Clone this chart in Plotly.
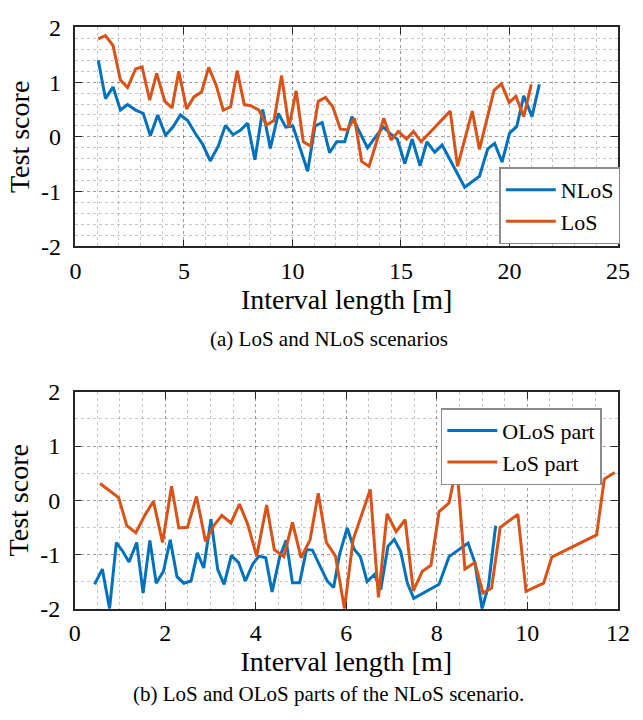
import plotly.graph_objects as go

# ---- (a) LoS and NLoS scenarios ----
nlos_x = [1.05,1.38,1.73,2.07,2.40,2.77,3.12,3.45,3.79,4.15,4.49,4.84,5.17,5.51,5.87,6.21,6.58,6.91,7.26,7.60,
          7.93,8.27,8.63,8.98,9.35,9.69,10.02,10.35,10.70,11.04,11.37,11.71,12.04,12.41,12.74,13.09,13.46,13.83,
          14.18,14.51,14.83,15.18,15.52,15.88,16.20,16.56,16.90,17.94,18.62,19.00,19.32,19.66,20.01,20.34,20.66,
          21.04,21.38]
nlos_y = [1.40,0.70,0.91,0.49,0.59,0.49,0.43,0.02,0.40,0.03,0.18,0.40,0.30,0.07,-0.14,-0.44,-0.17,0.21,0.04,0.12,
          0.25,-0.42,0.50,-0.21,0.43,0.18,0.20,-0.20,-0.63,0.20,0.26,-0.29,-0.09,-0.09,0.37,0.09,-0.20,0.00,
          0.18,0.06,-0.04,-0.49,-0.04,-0.53,-0.09,-0.28,-0.15,-0.92,-0.72,-0.22,-0.12,-0.46,0.07,0.19,0.75,
          0.37,0.96]
los_x = [1.05,1.38,1.73,2.07,2.40,2.77,3.07,3.42,3.74,4.12,4.45,4.76,5.12,5.46,5.81,6.14,6.48,6.81,7.15,7.45,
         7.78,8.08,8.45,8.80,9.15,9.50,9.84,10.17,10.50,10.84,11.19,11.52,11.86,12.21,12.53,12.86,13.19,13.53,
         14.21,14.55,14.88,15.26,15.58,15.93,17.27,17.61,18.29,18.62,19.29,19.63,19.99,20.30,20.66,21.01]
los_y = [1.79,1.85,1.67,1.04,0.90,1.24,1.28,0.67,1.16,0.65,0.53,1.20,0.51,0.73,0.82,1.27,0.95,0.49,0.55,1.21,
         0.59,0.57,0.49,0.22,0.30,1.12,0.18,0.84,-0.09,-0.17,0.65,0.72,0.55,0.14,0.13,0.34,-0.45,-0.54,
         0.34,-0.06,0.10,-0.04,0.10,-0.09,0.47,-0.54,0.47,-0.23,0.85,0.97,0.63,0.74,0.37,0.96]

# ---- (b) LoS and OLoS parts of the NLoS scenario ----
olos_part_x = [0.44,0.61,0.77,0.92,1.06,1.20,1.37,1.51,1.66,1.80,1.96,2.11,2.26,2.41,2.57,2.71,2.85,3.01,3.16,3.30,
               3.46,3.62,3.77,3.93,4.07,4.22,4.36,4.53,4.67,4.81,4.97,5.12,5.25,5.41,5.58,5.72,5.85,6.02,6.17,6.31,
               6.46,6.62,6.76,6.92,7.06,7.20,7.35,7.49,8.05,8.27,8.48,8.69,8.84,9.00,9.14,9.30]
olos_part_y = [-1.55,-1.27,-2.0,-0.78,-0.94,-1.14,-0.78,-1.71,-0.74,-1.53,-1.31,-0.73,-1.41,-1.53,-1.49,-0.97,-1.25,-0.35,
               -1.28,-1.55,-1.02,-1.15,-1.49,-1.18,-1.03,-1.06,-1.69,-1.04,-0.74,-1.52,-1.52,-0.91,-0.92,-1.19,-1.49,-1.61,
               -1.00,-0.51,-0.90,-1.04,-1.50,-1.37,-1.65,-0.85,-0.72,-0.94,-1.53,-1.81,-1.55,-1.04,-0.92,-0.79,-1.15,-2.0,
               -1.58,-0.47]
los_part_x = [0.56,0.97,1.15,1.35,1.56,1.74,1.94,2.14,2.30,2.49,2.69,2.89,3.07,3.25,3.45,3.64,3.82,4.02,4.24,4.41,
              4.62,4.81,5.00,5.20,5.38,5.56,5.76,5.96,6.15,6.53,6.71,6.90,7.10,7.30,7.48,7.68,7.87,8.05,8.27,8.44,
              8.62,8.84,9.02,9.21,9.40,9.79,9.97,10.36,10.54,11.53,11.70,11.93]
los_part_y = [0.31,0.05,-0.47,-0.60,-0.26,-0.02,-0.78,0.26,-0.51,-0.50,0.07,-0.76,-0.47,-0.28,-0.42,-0.07,-0.44,-1.03,
              -0.09,-0.91,-1.04,-0.41,-1.06,-0.73,0.13,-0.78,-1.03,-2.0,-0.73,0.20,-1.79,-0.25,-0.58,-0.36,-1.67,-1.31,
              -1.20,-0.21,-0.05,0.65,-1.27,-1.15,-1.71,-1.62,-0.50,-0.26,-1.68,-1.53,-1.05,-0.64,0.39,0.51]

x_ticks_a = [0, 5, 10, 15, 20, 25]
x_ticks_b = [0, 2, 4, 6, 8, 10, 12]
y_ticks = [-2, -1, 0, 1, 2]
y_ticktext = ["-2", "-1", "0", "1", "2"]

BLUE = "#0072BD"
ORANGE = "#D95319"
FONT = "Liberation Serif"
AX = "#262626"
GRID = "rgba(0,0,0,0.22)"

W, H = 643, 720
def px(x):
    return x / W
def py(y):
    return 1 - y / H

fig = go.Figure()
fig.add_trace(go.Scatter(x=nlos_x, y=nlos_y, mode="lines", name="NLoS", line=dict(color=BLUE, width=3),
                         xaxis="x", yaxis="y", legend="legend"))
fig.add_trace(go.Scatter(x=los_x, y=los_y, mode="lines", name="LoS", line=dict(color=ORANGE, width=3),
                         xaxis="x", yaxis="y", legend="legend"))
fig.add_trace(go.Scatter(x=olos_part_x, y=olos_part_y, mode="lines", name="OLoS part", line=dict(color=BLUE, width=3),
                         xaxis="x2", yaxis="y2", legend="legend2"))
fig.add_trace(go.Scatter(x=los_part_x, y=los_part_y, mode="lines", name="LoS part", line=dict(color=ORANGE, width=3),
                         xaxis="x2", yaxis="y2", legend="legend2"))

def axis_common(**kw):
    d = dict(showline=True, linecolor=AX, linewidth=1.5, mirror="allticks", ticks="inside", ticklen=7,
             tickwidth=1.2, tickcolor=AX, showgrid=True, gridcolor=GRID, griddash="dot", gridwidth=1,
             zeroline=False, tickfont=dict(family=FONT, size=24, color="black"),
             title_font=dict(family=FONT, size=28, color="black"))
    d.update(kw)
    return d

fig.update_layout(
    width=W, height=H, margin=dict(l=0, r=0, t=0, b=0),
    paper_bgcolor="white", plot_bgcolor="white",
    font=dict(family=FONT, color="black"),
    xaxis=axis_common(domain=[px(71.5), px(629.5)], range=[0, 25], tickvals=x_ticks_a, anchor="y",
                      ticklabelstandoff=2,
                      title=dict(text="Interval length [m]", standoff=2),
                      minor=dict(dtick=1, tick0=0, showgrid=True, gridcolor=GRID, griddash="dot", gridwidth=1)),
    yaxis=axis_common(domain=[py(242), py(15)], range=[-2, 2], tickvals=y_ticks, ticktext=y_ticktext, anchor="x",
                      ticklabelstandoff=8,
                      title=dict(text="Test score", standoff=3),
                      minor=dict(dtick=0.2, tick0=0, showgrid=True, gridcolor=GRID, griddash="dot", gridwidth=1)),
    xaxis2=axis_common(domain=[px(70.7), px(629.5)], range=[0, 12], tickvals=x_ticks_b, anchor="y2",
                       ticklabelstandoff=2,
                       title=dict(text="Interval length [m]", standoff=2),
                       minor=dict(dtick=0.5, tick0=0, showgrid=True, gridcolor=GRID, griddash="dot", gridwidth=1)),
    yaxis2=axis_common(domain=[py(618), py(393)], range=[-2, 2], tickvals=y_ticks, ticktext=y_ticktext, anchor="x2",
                       ticklabelstandoff=8,
                       title=dict(text="Test score", standoff=3),
                       minor=dict(dtick=0.5, tick0=0, showgrid=True, gridcolor=GRID, griddash="dot", gridwidth=1)),
    legend=dict(x=px(632), y=py(240), xanchor="right", yanchor="bottom", bgcolor="white",
                bordercolor="#8c8c8c", borderwidth=1.5, font=dict(family=FONT, size=22, color="black"),
                tracegroupgap=0, itemwidth=50),
    legend2=dict(x=px(613), y=py(410), xanchor="right", yanchor="top", bgcolor="white",
                 bordercolor="#8c8c8c", borderwidth=1.5, font=dict(family=FONT, size=22, color="black"),
                 tracegroupgap=0, itemwidth=50),
    showlegend=True,
    annotations=[
        dict(text="(a) LoS and NLoS scenarios", x=px(332), y=py(338), xref="paper", yref="paper",
             showarrow=False, xanchor="center", yanchor="middle", font=dict(family=FONT, size=21, color="black")),
        dict(text="(b) LoS and OLoS parts of the NLoS scenario.", x=px(332), y=py(706), xref="paper", yref="paper",
             showarrow=False, xanchor="center", yanchor="middle", font=dict(family=FONT, size=21, color="black")),
    ],
)

fig.write_html("out.html")
